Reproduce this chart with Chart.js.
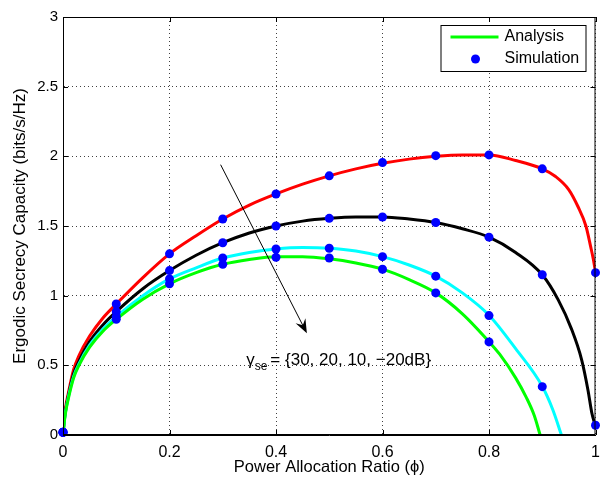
<!DOCTYPE html>
<html>
<head>
<meta charset="utf-8">
<script src="https://cdn.jsdelivr.net/npm/chart.js@4.4.0/dist/chart.umd.min.js"></script>
<style>
  html, body { margin: 0; padding: 0; background: #fff; }
  #wrap { width: 600px; height: 477px; }
</style>
</head>
<body>
<div id="wrap"><canvas id="chart" width="600" height="477"></canvas></div>
<script>
// analysis curves, one phi list per curve
const phiRed   = [0, 0.002, 0.005, 0.01, 0.02, 0.03, 0.05, 0.075, 0.1, 0.15, 0.2, 0.25, 0.3, 0.35, 0.4, 0.45, 0.5, 0.55, 0.6, 0.65, 0.7, 0.75, 0.8, 0.85, 0.9, 0.925, 0.95, 0.967, 0.982, 0.991, 0.996, 1];
const capRed   = [0, 0.10, 0.20, 0.30, 0.47, 0.57, 0.71, 0.84, 0.94, 1.13, 1.30, 1.43, 1.55, 1.65, 1.73, 1.80, 1.86, 1.91, 1.95, 1.98, 2.00, 2.01, 2.01, 1.97, 1.91, 1.855, 1.76, 1.64, 1.50, 1.35, 1.26, 1.17];

const phiBlack = [0, 0.002, 0.005, 0.01, 0.02, 0.03, 0.05, 0.075, 0.1, 0.15, 0.2, 0.25, 0.3, 0.35, 0.4, 0.45, 0.5, 0.55, 0.6, 0.65, 0.7, 0.75, 0.8, 0.85, 0.9, 0.93, 0.955, 0.974, 0.986, 0.993, 1];
const capBlack = [0, 0.09, 0.18, 0.28, 0.44, 0.53, 0.67, 0.79, 0.885, 1.05, 1.18, 1.29, 1.38, 1.45, 1.50, 1.535, 1.555, 1.565, 1.565, 1.55, 1.525, 1.48, 1.42, 1.31, 1.15, 0.97, 0.76, 0.54, 0.32, 0.16, 0.06];

const phiCyan  = [0, 0.002, 0.005, 0.01, 0.02, 0.03, 0.05, 0.075, 0.1, 0.15, 0.2, 0.25, 0.3, 0.35, 0.4, 0.45, 0.5, 0.55, 0.6, 0.65, 0.7, 0.75, 0.8, 0.85, 0.9, 0.92, 0.936];
const capCyan  = [0, 0.085, 0.17, 0.27, 0.42, 0.51, 0.645, 0.76, 0.85, 1.00, 1.12, 1.20, 1.27, 1.31, 1.335, 1.345, 1.34, 1.32, 1.28, 1.22, 1.14, 1.02, 0.86, 0.62, 0.35, 0.18, 0];

const phiGreen = [0, 0.002, 0.005, 0.01, 0.02, 0.03, 0.05, 0.075, 0.1, 0.15, 0.2, 0.25, 0.3, 0.35, 0.4, 0.45, 0.5, 0.55, 0.6, 0.65, 0.7, 0.75, 0.8, 0.82, 0.85, 0.87, 0.885, 0.896];
const capGreen = [0, 0.08, 0.165, 0.26, 0.41, 0.50, 0.63, 0.745, 0.83, 0.975, 1.085, 1.165, 1.225, 1.26, 1.28, 1.28, 1.265, 1.235, 1.19, 1.115, 1.02, 0.87, 0.67, 0.58, 0.41, 0.27, 0.14, 0];

// simulation markers
const simPhi   = [0, 0.1, 0.2, 0.3, 0.4, 0.5, 0.6, 0.7, 0.8, 0.9, 1];
const simRed   = [0.02, 0.94, 1.30, 1.55, 1.73, 1.86, 1.955, 2.005, 2.01, 1.91, 1.165];
const simBlack = [0.02, 0.885, 1.18, 1.38, 1.50, 1.555, 1.565, 1.525, 1.42, 1.15, 0.07];
const simCyan  = [0.02, 0.85, 1.12, 1.27, 1.335, 1.34, 1.28, 1.14, 0.857, 0.347, null];
const simGreen = [0.02, 0.83, 1.085, 1.225, 1.275, 1.27, 1.19, 1.02, 0.668, null, null];

const xTicks = [0, 0.2, 0.4, 0.6, 0.8, 1];
const yTicks = [0, 0.5, 1, 1.5, 2, 2.5, 3];

const FONT = '"Liberation Sans", Arial, Helvetica, sans-serif';

const pts = (xs, ys) => xs.map((x, i) => ({ x, y: ys[i] }));

const curve = (xs, ys, color) => ({
    data: pts(xs, ys), borderColor: color, borderWidth: 3,
    pointRadius: 0, cubicInterpolationMode: 'monotone', fill: false, order: 2
});
const markers = ys => ({
    data: pts(simPhi, ys), showLine: false, pointRadius: 4.5, clip: false,
    pointBackgroundColor: '#0000ff', pointBorderWidth: 0, order: 1
});

// box, inward ticks, legend and the arrow annotation
const extras = {
    id: 'extras',
    afterDraw(chart) {
        const { ctx, chartArea: a, scales: { x, y } } = chart;
        ctx.save();
        ctx.strokeStyle = '#000';
        ctx.lineWidth = 1;
        ctx.strokeRect(a.left + 0.5, a.top + 0.5, a.right - a.left - 1, a.bottom - a.top - 1);

        ctx.beginPath();
        xTicks.forEach(v => {
            const px = Math.round(x.getPixelForValue(v)) + 0.5;
            ctx.moveTo(px, a.bottom); ctx.lineTo(px, a.bottom - 5);
            ctx.moveTo(px, a.top); ctx.lineTo(px, a.top + 5);
        });
        yTicks.forEach(v => {
            const py = Math.round(y.getPixelForValue(v)) + 0.5;
            ctx.moveTo(a.left, py); ctx.lineTo(a.left + 5, py);
            ctx.moveTo(a.right, py); ctx.lineTo(a.right - 5, py);
        });
        ctx.stroke();

        // legend
        const lx = a.right - 155, ly = a.top + 8, lw = 145, lh = 46;
        ctx.fillStyle = '#fff';
        ctx.fillRect(lx, ly, lw, lh);
        ctx.strokeRect(lx + 0.5, ly + 0.5, lw, lh);
        ctx.strokeStyle = '#00ff00';
        ctx.lineWidth = 3;
        ctx.beginPath();
        ctx.moveTo(lx + 10, ly + 12); ctx.lineTo(lx + 58, ly + 12);
        ctx.stroke();
        ctx.fillStyle = '#0000ff';
        ctx.beginPath();
        ctx.arc(lx + 35, ly + 34, 4.5, 0, Math.PI * 2);
        ctx.fill();
        ctx.fillStyle = '#000';
        ctx.font = '16px ' + FONT;
        ctx.textBaseline = 'middle';
        ctx.fillText('Analysis', lx + 64, ly + 12);
        ctx.fillText('Simulation', lx + 64, ly + 34);

        // arrow
        const x1 = x.getPixelForValue(0.296), y1 = y.getPixelForValue(1.94);
        const x2 = x.getPixelForValue(0.458), y2 = y.getPixelForValue(0.73);
        const ang = Math.atan2(y2 - y1, x2 - x1);
        ctx.strokeStyle = '#000';
        ctx.lineWidth = 1;
        ctx.beginPath();
        ctx.moveTo(x1, y1); ctx.lineTo(x2 - 6 * Math.cos(ang), y2 - 6 * Math.sin(ang));
        ctx.stroke();
        const hl = 14, hw = 5.5, notch = 9;
        const bx = x2 - hl * Math.cos(ang), by = y2 - hl * Math.sin(ang);
        const nx = x2 - notch * Math.cos(ang), ny = y2 - notch * Math.sin(ang);
        ctx.fillStyle = '#000';
        ctx.beginPath();
        ctx.moveTo(x2, y2);
        ctx.lineTo(bx + hw * Math.sin(ang), by - hw * Math.cos(ang));
        ctx.lineTo(nx, ny);
        ctx.lineTo(bx - hw * Math.sin(ang), by + hw * Math.cos(ang));
        ctx.closePath();
        ctx.fill();

        // gamma_se label
        const tx = x.getPixelForValue(0.344), ty = y.getPixelForValue(0.5);
        ctx.textBaseline = 'alphabetic';
        ctx.font = '17px ' + FONT;
        ctx.fillText('γ', tx, ty);
        let cx = tx + ctx.measureText('γ').width;
        ctx.font = '12px ' + FONT;
        ctx.fillText('se', cx, ty + 5);
        cx += ctx.measureText('se').width + 3;
        ctx.font = '17px ' + FONT;
        ctx.fillText('= {30, 20, 10, \u221220dB}', cx, ty);
        ctx.restore();
    }
};

new Chart(document.getElementById('chart'), {
    type: 'line',
    data: {
        datasets: [
            curve(phiGreen, capGreen, '#00ff00'),
            curve(phiCyan, capCyan, '#00ffff'),
            curve(phiBlack, capBlack, '#000000'),
            curve(phiRed, capRed, '#ff0000'),
            markers(simRed), markers(simBlack), markers(simCyan), markers(simGreen)
        ]
    },
    options: {
        responsive: false, animation: false, devicePixelRatio: 1,
        layout: { padding: { top: 17, right: 3, left: 0, bottom: 0 } },
        plugins: { legend: { display: false }, tooltip: { enabled: false } },
        scales: {
            x: {
                type: 'linear', min: 0, max: 1,
                afterBuildTicks: s => { s.ticks = xTicks.map(v => ({ value: v })); },
                afterFit: s => { s.height = 42; s.paddingLeft = 0; s.paddingRight = 0; },
                ticks: { color: '#000', font: { family: FONT, size: 16 }, padding: 8, maxRotation: 0, callback: v => String(v) },
                grid: { color: 'rgba(0,0,0,0.75)', lineWidth: 1, drawTicks: false },
                border: { display: true, color: '#000', dash: [1, 3] },
                title: { display: true, text: 'Power Allocation Ratio (ϕ)', color: '#000', font: { family: FONT, size: 16.5 }, padding: { top: 0, bottom: 0 } }
            },
            y: {
                type: 'linear', min: 0, max: 3,
                afterBuildTicks: s => { s.ticks = yTicks.map(v => ({ value: v })); },
                afterFit: s => { s.width = 63; s.paddingTop = 0; s.paddingBottom = 0; },
                ticks: { color: '#000', font: { family: FONT, size: 15 }, padding: 5, callback: v => String(v) },
                grid: { color: 'rgba(0,0,0,0.75)', lineWidth: 1, drawTicks: false },
                border: { display: true, color: '#000', dash: [1, 3] },
                title: { display: true, text: 'Ergodic Secrecy Capacity (bits/s/Hz)', color: '#000', font: { family: FONT, size: 17 }, padding: { top: 10, bottom: 2 } }
            }
        }
    },
    plugins: [extras]
});
</script>
</body>
</html>
